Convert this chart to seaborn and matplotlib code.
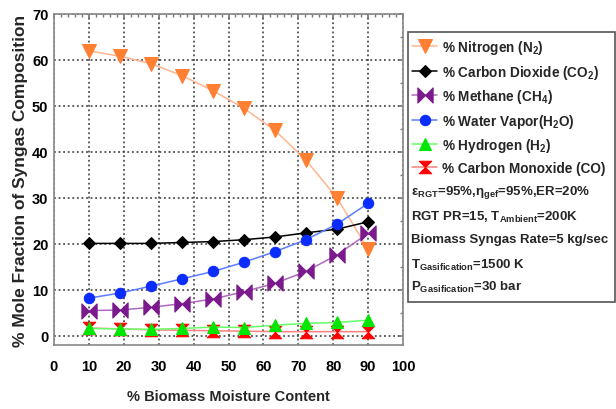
import matplotlib
matplotlib.use("Agg")
import matplotlib.pyplot as plt
import seaborn as sns
import pandas as pd
from matplotlib import font_manager
from matplotlib.path import Path
from matplotlib.patches import Rectangle
from matplotlib.ticker import MultipleLocator

# ---- data -------------------------------------------------------------
moisture = [10, 18.9, 27.8, 36.7, 45.6, 54.4, 63.3, 72.2, 81.1, 90]
nitrogen = [62.0, 60.8, 59.2, 56.6, 53.3, 49.5, 44.7, 38.2, 30.0, 18.8]
carbon_dioxide = [20.1, 20.1, 20.1, 20.3, 20.5, 20.9, 21.5, 22.4, 23.2, 24.8]
methane = [5.5, 5.6, 6.2, 7.0, 8.0, 9.6, 11.4, 14.0, 17.6, 22.3]
water_vapor = [8.2, 9.3, 10.8, 12.4, 14.0, 16.0, 18.3, 20.9, 24.3, 28.8]
hydrogen = [1.6, 1.5, 1.4, 1.6, 1.9, 1.8, 2.3, 2.7, 2.9, 3.4]
carbon_monoxide = [1.7, 1.5, 1.3, 1.2, 1.1, 1.0, 0.9, 0.9, 0.9, 0.9]

x_ticks = [0, 10, 20, 30, 40, 50, 60, 70, 80, 90, 100]
y_ticks = [0, 10, 20, 30, 40, 50, 60, 70]

# ---- fonts ------------------------------------------------------------
sns.set_theme(style="white")
available = {f.name for f in font_manager.fontManager.ttflist}
FONT = "Liberation Sans Narrow" if "Liberation Sans Narrow" in available else "Liberation Sans"
plt.rcParams["font.family"] = [FONT, "DejaVu Sans"]
plt.rcParams["font.weight"] = "bold"
plt.rcParams["mathtext.fontset"] = "custom"
plt.rcParams["mathtext.rm"] = f"{FONT}:bold"
plt.rcParams["mathtext.it"] = f"{FONT}:bold"
plt.rcParams["mathtext.bf"] = f"{FONT}:bold"

# bow-tie and hour-glass marker shapes
bowtie = Path([(-1, -1), (-1, 1), (0, 0), (1, 1), (1, -1), (0, 0), (-1, -1)],
              [Path.MOVETO, Path.LINETO, Path.LINETO, Path.LINETO, Path.LINETO,
               Path.LINETO, Path.CLOSEPOLY])
hourglass = Path([(-1, 1), (1, 1), (0, 0), (1, -1), (-1, -1), (0, 0), (-1, 1)],
                 [Path.MOVETO, Path.LINETO, Path.LINETO, Path.LINETO, Path.LINETO,
                  Path.LINETO, Path.CLOSEPOLY])

# label, values, line colour, marker colour, marker, size, z-order
series = [
    ("% Nitrogen (N$_2$)", nitrogen, "#ffb58f", "#ff7f33", "v", 10, 3),
    ("% Carbon Dioxide (CO$_2$)", carbon_dioxide, "#000000", "#000000", "D", 6, 3),
    ("% Methane (CH$_4$)", methane, "#b069bf", "#7a1a8c", bowtie, 11, 3),
    ("% Water Vapor(H$_2$O)", water_vapor, "#5c7cff", "#0a2cff", "o", 7.5, 3),
    ("% Hydrogen (H$_2$)", hydrogen, "#66ff66", "#00e600", "^", 9, 4),
    ("% Carbon Monoxide (CO)", carbon_monoxide, "#ff8080", "#ff0000", hourglass, 9, 2.5),
]

fig = plt.figure(figsize=(6.16, 4.10), dpi=100)
ax = fig.add_axes([54 / 616, 1 - 346 / 410, (403 - 54) / 616, (346 - 15) / 410])

for label, values, lc, mc, mk, ms, z in series:
    df = pd.DataFrame({"moisture": moisture, "value": values})
    sns.lineplot(data=df, x="moisture", y="value", ax=ax, color=lc, lw=1.1,
                 marker=mk, markersize=ms, markerfacecolor=mc,
                 markeredgecolor=mc, label=label, zorder=z)

ax.set_xlim(0, 100)
ax.set_ylim(-2, 70)
ax.set_xticks(x_ticks)
ax.set_yticks(y_ticks)
ax.xaxis.set_minor_locator(MultipleLocator(2))
ax.yaxis.set_minor_locator(MultipleLocator(5))
ax.tick_params(which="both", direction="in", top=True, right=True,
               colors="#777777", labelcolor="black", labelsize=10.5)
ax.tick_params(axis="x", which="major", pad=10)
ax.tick_params(axis="y", which="major", pad=4)
ax.tick_params(which="major", length=3)
ax.tick_params(which="minor", length=2)
for lab in ax.get_xticklabels() + ax.get_yticklabels():
    lab.set_fontweight("bold")
ax.grid(True, which="major", color="#333333", linestyle=(0, (1.2, 1.8)), lw=1.1)
for sp in ax.spines.values():
    sp.set_color("#888888")
    sp.set_linewidth(1.2)

ax.set_xlabel("% Biomass Moisture Content", fontsize=10.5, fontweight="bold")
ax.xaxis.set_label_coords(0.5, -(390 - 346) / 331)
ax.set_ylabel("% Mole Fraction of Syngas Composition", fontsize=12.5, fontweight="bold")
ax.yaxis.set_label_coords(-(54 - 28) / 349, 0.5)

# legend box with the operating conditions below the series entries
leg = ax.legend(loc="upper left", bbox_to_anchor=(412 / 616, 1 - 39 / 410),
                bbox_transform=fig.transFigure, frameon=False, fontsize=9.8,
                handlelength=1.85, handletextpad=0.35, labelspacing=0.48,
                borderpad=0, borderaxespad=0)
for t in leg.get_texts():
    t.set_fontweight("bold")

notes = [
    ("ε$_{RGT}$=95%,η$_{gef}$=95%,ER=20%", 193),
    ("RGT PR=15, T$_{Ambient}$=200K", 217),
    ("Biomass Syngas Rate=5 kg/sec", 240),
    ("T$_{Gasification}$=1500 K", 265),
    ("P$_{Gasification}$=30 bar", 287),
]
for txt, ypx in notes:
    fig.text(411 / 616, 1 - ypx / 410, txt, fontsize=9.5, fontweight="bold",
             ha="left", va="center")

fig.patches.append(Rectangle((408 / 616, 1 - 303 / 410), (615 - 408) / 616,
                             (303 - 33) / 410, transform=fig.transFigure,
                             fill=False, edgecolor="#555555", lw=1.2))

fig.savefig("out.png", dpi=100)
